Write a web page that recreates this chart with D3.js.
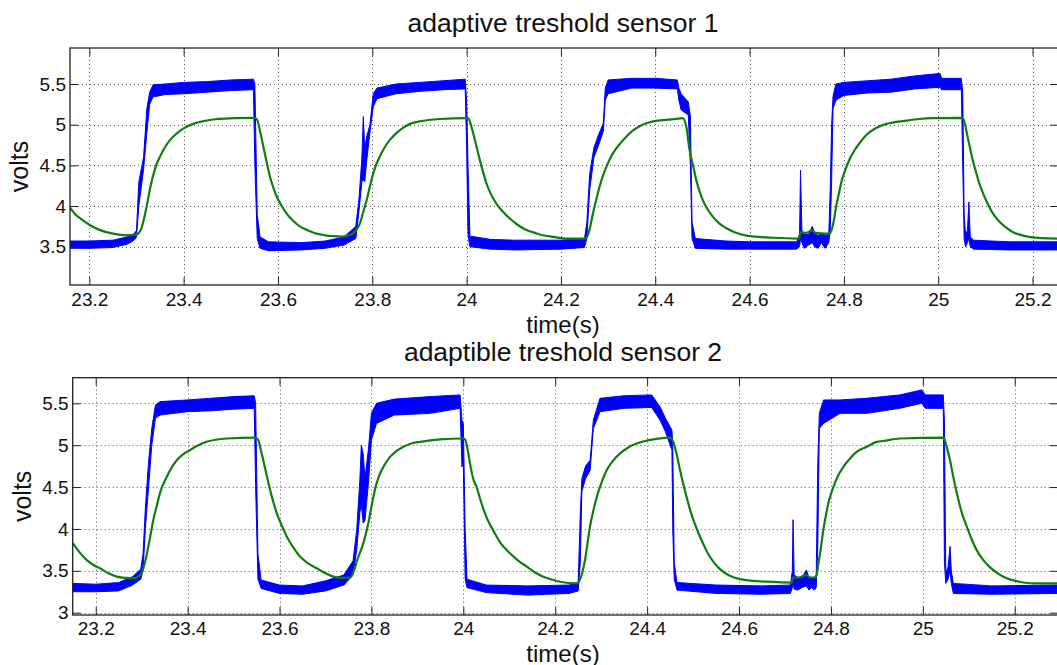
<!DOCTYPE html>
<html>
<head>
<meta charset="utf-8">
<script src="https://cdn.jsdelivr.net/npm/d3@7"></script>
<style>
html,body{margin:0;padding:0;background:#fff;}
svg{display:block;}
text{font-family:"Liberation Sans",Arial,Helvetica,sans-serif;fill:#111;}
</style>
</head>
<body>
<svg id="chart" width="1057" height="665"></svg>
<script>
// ---------- shared tick labels ----------
const xTicks = [23.2, 23.4, 23.6, 23.8, 24, 24.2, 24.4, 24.6, 24.8, 25, 25.2];
const yTicks1 = [3.5, 4, 4.5, 5, 5.5];
const yTicks2 = [3, 3.5, 4, 4.5, 5, 5.5];
const titles = ["adaptive treshold sensor 1", "adaptible treshold sensor 2"];
const xLabel = "time(s)";
const yLabel = "volts";

// ---------- sensor 1: raw signal envelope (blue) ----------
const s1RawT  = [23.159,23.20,23.25,23.28,23.295,23.300,23.305,23.315,23.322,23.328,23.335,23.36,23.40,23.45,23.50,23.548,23.551,23.556,23.562,23.58,23.65,23.70,23.74,23.765,23.772,23.778,23.781,23.784,23.788,23.795,23.802,23.81,23.85,23.90,23.95,23.997,24.000,24.003,24.007,24.05,24.10,24.20,24.25,24.255,24.261,24.27,24.28,24.29,24.294,24.30,24.35,24.40,24.447,24.450,24.455,24.47,24.4745,24.478,24.485,24.55,24.60,24.70,24.706,24.708,24.711,24.716,24.725,24.733,24.738,24.745,24.752,24.760,24.768,24.771,24.774,24.777,24.783,24.80,24.85,24.90,24.95,25.004,25.007,25.03,25.049,25.052,25.055,25.058,25.062,25.065,25.068,25.075,25.15,25.254];
const s1RawLo = [3.48,3.48,3.49,3.53,3.58,3.62,4.0,4.45,4.9,5.25,5.34,5.37,5.38,5.40,5.42,5.43,4.5,3.6,3.48,3.45,3.46,3.48,3.52,3.6,3.95,4.3,4.32,4.3,4.55,4.9,5.22,5.32,5.38,5.41,5.43,5.44,4.73,3.65,3.5,3.47,3.46,3.47,3.49,3.6,4.2,4.6,4.75,4.92,5.3,5.38,5.45,5.45,5.44,5.3,5.18,5.12,4.5,3.6,3.48,3.47,3.47,3.47,3.5,3.6,3.55,3.48,3.52,3.55,3.5,3.48,3.55,3.48,3.55,3.7,4.3,5.2,5.30,5.36,5.39,5.40,5.44,5.46,5.43,5.43,5.43,4.5,3.6,3.5,3.55,3.6,3.5,3.47,3.46,3.46];
const s1RawHi = [3.57,3.57,3.58,3.62,3.66,3.70,4.3,4.6,5.2,5.4,5.49,5.5,5.52,5.53,5.55,5.56,5.5,3.9,3.62,3.56,3.55,3.57,3.62,3.75,4.1,4.6,5.10,4.7,4.85,5.0,5.38,5.45,5.50,5.52,5.54,5.56,5.3,4.5,3.63,3.59,3.58,3.58,3.6,3.8,4.4,4.72,4.88,5.02,5.45,5.55,5.57,5.57,5.55,5.45,5.38,5.28,5.1,3.8,3.6,3.57,3.56,3.56,3.65,4.44,3.7,3.65,3.65,3.75,3.66,3.64,3.66,3.64,3.66,4.2,5.0,5.35,5.50,5.52,5.54,5.56,5.60,5.63,5.57,5.57,5.57,5.4,3.9,3.65,3.7,4.05,3.62,3.58,3.56,3.56];

// ---------- sensor 1: adaptive threshold (green) ----------
const s1ThrT = [23.159,23.17,23.185,23.20,23.22,23.25,23.28,23.30,23.31,23.32,23.33,23.34,23.35,23.36,23.371,23.385,23.40,23.42,23.435,23.47,23.505,23.551,23.556,23.562,23.569,23.576,23.583,23.59,23.597,23.607,23.618,23.63,23.646,23.664,23.682,23.70,23.717,23.735,23.755,23.765,23.774,23.781,23.788,23.795,23.802,23.809,23.816,23.826,23.837,23.85,23.865,23.88,23.90,23.943,24.0,24.004,24.01,24.021,24.031,24.042,24.052,24.063,24.077,24.091,24.108,24.127,24.145,24.162,24.19,24.211,24.2466,24.254,24.261,24.268,24.275,24.282,24.292,24.303,24.314,24.326,24.34,24.353,24.37,24.388,24.405,24.424,24.45,24.458,24.4657,24.4727,24.48,24.487,24.494,24.501,24.511,24.522,24.535,24.550,24.567,24.586,24.62,24.649,24.70,24.705,24.708,24.72,24.733,24.74,24.76,24.769,24.773,24.778,24.7834,24.789,24.794,24.802,24.8116,24.822,24.8328,24.847,24.868,24.89,24.9325,24.96,24.988,25.052,25.057,25.0623,25.0676,25.0729,25.08,25.087,25.097,25.108,25.118,25.1294,25.143,25.1576,25.175,25.193,25.22,25.254];
const s1ThrV = [3.98,3.90,3.83,3.77,3.71,3.66,3.64,3.65,3.72,3.95,4.25,4.47,4.61,4.72,4.81,4.89,4.955,5.01,5.035,5.07,5.08,5.085,5.06,4.92,4.73,4.54,4.36,4.23,4.12,4.01,3.91,3.83,3.75,3.70,3.66,3.64,3.63,3.625,3.65,3.70,3.79,3.93,4.07,4.24,4.40,4.52,4.61,4.72,4.81,4.89,4.96,5.01,5.04,5.07,5.08,5.075,4.98,4.73,4.50,4.28,4.14,4.03,3.93,3.85,3.77,3.705,3.67,3.64,3.615,3.60,3.60,3.61,3.72,3.91,4.08,4.24,4.42,4.57,4.68,4.77,4.86,4.93,4.99,5.03,5.05,5.06,5.075,5.08,4.98,4.69,4.50,4.32,4.18,4.07,3.96,3.87,3.79,3.73,3.68,3.645,3.62,3.61,3.60,3.60,3.68,3.67,3.70,3.67,3.66,3.66,3.69,3.80,3.99,4.14,4.28,4.43,4.57,4.68,4.77,4.87,4.96,5.01,5.05,5.07,5.08,5.085,5.00,4.85,4.71,4.57,4.42,4.28,4.13,3.99,3.89,3.81,3.74,3.68,3.645,3.62,3.605,3.60];

// ---------- sensor 2: raw signal envelope (blue) ----------
const s2RawT  = [23.150,23.20,23.25,23.28,23.298,23.303,23.308,23.315,23.322,23.33,23.34,23.40,23.45,23.50,23.545,23.548,23.553,23.56,23.60,23.65,23.70,23.74,23.76,23.768,23.775,23.778,23.782,23.786,23.794,23.80,23.811,23.85,23.928,23.993,23.997,24.000,24.004,24.008,24.05,24.14,24.23,24.25,24.2546,24.258,24.266,24.276,24.283,24.2975,24.35,24.41,24.428,24.44,24.454,24.4558,24.459,24.465,24.55,24.65,24.712,24.716,24.7176,24.72,24.728,24.737,24.7467,24.752,24.758,24.764,24.768,24.7715,24.7748,24.784,24.82,24.878,24.95,24.9976,25.0056,25.0446,25.047,25.050,25.055,25.0592,25.062,25.0664,25.15,25.293];
const s2RawLo = [3.25,3.25,3.26,3.33,3.4,3.5,4.0,4.5,5.0,5.32,5.36,5.40,5.41,5.43,5.44,4.5,3.4,3.29,3.23,3.22,3.26,3.33,3.45,3.75,4.2,4.3,4.07,4.1,4.58,5.06,5.26,5.36,5.38,5.44,4.74,4.8,3.4,3.3,3.24,3.21,3.23,3.26,3.6,4.45,4.6,4.7,5.2,5.40,5.44,5.45,5.30,5.16,4.94,4.0,3.4,3.27,3.23,3.22,3.23,3.3,3.35,3.28,3.27,3.30,3.32,3.27,3.30,3.27,3.3,3.8,5.2,5.26,5.38,5.38,5.44,5.50,5.44,5.44,3.6,3.35,3.40,3.5,3.35,3.23,3.22,3.23];
const s2RawHi = [3.35,3.34,3.36,3.43,3.52,3.7,4.25,4.8,5.2,5.48,5.52,5.54,5.56,5.58,5.59,5.5,3.7,3.39,3.33,3.32,3.38,3.45,3.62,3.99,4.6,5.0,4.9,4.6,4.98,5.38,5.50,5.55,5.58,5.60,5.3,5.26,4.0,3.4,3.33,3.32,3.33,3.36,4.19,4.6,4.75,4.82,5.30,5.56,5.59,5.60,5.46,5.32,5.18,5.0,3.6,3.36,3.33,3.32,3.33,3.5,4.11,3.45,3.42,3.42,3.51,3.42,3.41,3.42,3.45,4.8,5.38,5.54,5.54,5.56,5.60,5.66,5.60,5.60,5.3,3.47,3.55,3.79,3.5,3.35,3.32,3.33];

// ---------- sensor 2: adaptive threshold (green) ----------
const s2ThrT = [23.150,23.165,23.18,23.195,23.2094,23.228,23.2457,23.265,23.2818,23.2964,23.3036,23.309,23.3145,23.32,23.3254,23.333,23.34,23.3545,23.365,23.3763,23.39,23.405,23.42,23.4414,23.485,23.5467,23.5539,23.559,23.5647,23.572,23.5793,23.5866,23.5939,23.605,23.6156,23.63,23.6446,23.662,23.681,23.70,23.717,23.735,23.7534,23.762,23.768,23.7825,23.7934,23.8041,23.81,23.8187,23.829,23.8405,23.854,23.8694,23.8865,23.9058,23.9493,24.0,24.0037,24.009,24.0146,24.0215,24.0291,24.0365,24.0436,24.052,24.0653,24.08,24.1015,24.12,24.138,24.156,24.174,24.19,24.2104,24.2467,24.2536,24.259,24.2649,24.27,24.2758,24.283,24.2904,24.30,24.312,24.325,24.3409,24.358,24.3773,24.3954,24.4135,24.45,24.457,24.464,24.4717,24.479,24.486,24.493,24.5005,24.511,24.5223,24.533,24.544,24.5584,24.58,24.602,24.63,24.66,24.715,24.7176,24.73,24.7467,24.755,24.7655,24.769,24.7725,24.7765,24.7835,24.789,24.7944,24.8053,24.815,24.827,24.8415,24.856,24.878,24.8997,24.914,24.95,25.0446,25.048,25.052,25.0592,25.0664,25.0735,25.081,25.088,25.0955,25.106,25.117,25.13,25.1446,25.163,25.1826,25.21,25.2405,25.293];
const s2ThrV = [3.83,3.72,3.63,3.57,3.53,3.47,3.43,3.415,3.41,3.45,3.53,3.64,3.79,3.95,4.11,4.28,4.43,4.62,4.73,4.82,4.89,4.94,4.99,5.04,5.08,5.09,5.06,4.95,4.82,4.64,4.47,4.32,4.19,4.04,3.91,3.78,3.67,3.59,3.53,3.47,3.43,3.415,3.42,3.50,3.61,3.83,4.07,4.38,4.52,4.66,4.77,4.86,4.93,4.98,5.02,5.04,5.07,5.08,5.07,4.96,4.78,4.60,4.50,4.36,4.24,4.12,3.98,3.84,3.71,3.62,3.55,3.48,3.43,3.40,3.37,3.35,3.39,3.48,3.63,3.82,4.03,4.22,4.38,4.54,4.70,4.81,4.90,4.97,5.02,5.05,5.07,5.09,5.04,4.90,4.70,4.53,4.38,4.24,4.11,3.96,3.82,3.70,3.61,3.52,3.44,3.40,3.38,3.37,3.36,3.42,3.42,3.45,3.42,3.42,3.45,3.58,3.71,3.99,4.16,4.31,4.50,4.63,4.74,4.84,4.92,4.98,5.04,5.05,5.08,5.09,5.06,4.98,4.82,4.62,4.44,4.27,4.14,4.03,3.88,3.75,3.64,3.55,3.47,3.41,3.37,3.35,3.35];

// ---------- drawing ----------
const svg = d3.select("#chart");
const BLUE = "#0000ff", GREEN = "#0e7f0e";

const panels = [
  {title: titles[0], xDom:[23.159,25.254], yDom:[3.029,5.943], left:70, right:1058, top:48, bottom:285,
   yTicks:yTicks1, rawT:s1RawT, rawLo:s1RawLo, rawHi:s1RawHi, thrT:s1ThrT, thrV:s1ThrV,
   titleY:32, xLabelY:333, yLabelX:28, xPad:8, yPad:4},
  {title: titles[1], xDom:[23.1499,25.2942], yDom:[2.9725,5.8056], left:72.7, right:1058, top:377.7, bottom:615,
   yTicks:yTicks2, rawT:s2RawT, rawLo:s2RawLo, rawHi:s2RawHi, thrT:s2ThrT, thrV:s2ThrV,
   titleY:361, xLabelY:661.5, yLabelX:31, xPad:7, yPad:4}
];

const fmt = d => String(+d.toFixed(1));

panels.forEach((p, i) => {
  const x = d3.scaleLinear().domain(p.xDom).range([p.left, p.right]);
  const y = d3.scaleLinear().domain(p.yDom).range([p.bottom, p.top]);
  const g = svg.append("g");
  const W = p.right - p.left, H = p.bottom - p.top;

  g.append("clipPath").attr("id","clip"+i).append("rect")
    .attr("x",p.left).attr("y",p.top).attr("width",W).attr("height",H);

  // grid
  const grid = g.append("g").attr("stroke","#555").attr("stroke-width",1).attr("stroke-dasharray","1,3");
  grid.selectAll(".gx").data(xTicks).join("line")
    .attr("x1",d=>Math.round(x(d))+0.5).attr("x2",d=>Math.round(x(d))+0.5)
    .attr("y1",p.top).attr("y2",p.bottom);
  grid.selectAll(".gy").data(p.yTicks).join("line")
    .attr("y1",d=>Math.round(y(d))+0.5).attr("y2",d=>Math.round(y(d))+0.5)
    .attr("x1",p.left).attr("x2",p.right);

  const data = p.rawT.map((t,k)=>({t, lo:p.rawLo[k], hi:p.rawHi[k]}));
  const area = d3.area().x(d=>x(d.t)).y0(d=>y(d.lo)).y1(d=>y(d.hi));
  g.append("path").datum(data).attr("clip-path","url(#clip"+i+")")
    .attr("d",area).attr("fill",BLUE).attr("stroke",BLUE).attr("stroke-width",1)
    .attr("stroke-linejoin","round");

  const thr = p.thrT.map((t,k)=>({t, v:p.thrV[k]}));
  const line = d3.line().x(d=>x(d.t)).y(d=>y(d.v)).curve(d3.curveMonotoneX);
  g.append("path").datum(thr).attr("clip-path","url(#clip"+i+")")
    .attr("d",line).attr("fill","none").attr("stroke",GREEN).attr("stroke-width",2.2)
    .attr("stroke-linejoin","round");

  // axes (MATLAB style, ticks inside)
  const axB = g.append("g").attr("transform",`translate(0,${p.bottom})`)
    .call(d3.axisBottom(x).tickValues(xTicks).tickSize(-8).tickPadding(p.xPad).tickFormat(fmt));
  const axT = g.append("g").attr("transform",`translate(0,${p.top})`)
    .call(d3.axisTop(x).tickValues(xTicks).tickSize(-8).tickFormat(""));
  const axL = g.append("g").attr("transform",`translate(${p.left},0)`)
    .call(d3.axisLeft(y).tickValues(p.yTicks).tickSize(-8).tickPadding(p.yPad).tickFormat(fmt));
  const axR = g.append("g").attr("transform",`translate(${p.right},0)`)
    .call(d3.axisRight(y).tickValues(p.yTicks).tickSize(-8).tickFormat(""));
  [axB,axT,axL,axR].forEach(a=>{
    a.select(".domain").remove();
    a.selectAll(".tick line").attr("stroke","#222");
    a.selectAll("text").attr("font-size","19px").attr("fill","#111")
      .style("font-family",'"Liberation Sans",Arial,sans-serif');
  });
  g.append("rect").attr("x",p.left).attr("y",p.top).attr("width",W).attr("height",H)
    .attr("fill","none").attr("stroke","#222").attr("stroke-width",1.3);

  // texts
  svg.append("text").attr("x",563).attr("y",p.titleY).attr("text-anchor","middle")
    .attr("font-size","26.5px").text(p.title);
  svg.append("text").attr("x",563).attr("y",p.xLabelY).attr("text-anchor","middle")
    .attr("font-size","24px").text(xLabel);
  svg.append("text").attr("transform",`translate(${p.yLabelX},${(p.top+p.bottom)/2}) rotate(-90)`)
    .attr("text-anchor","middle").attr("font-size","25px").text(yLabel);
});
</script>
</body>
</html>
